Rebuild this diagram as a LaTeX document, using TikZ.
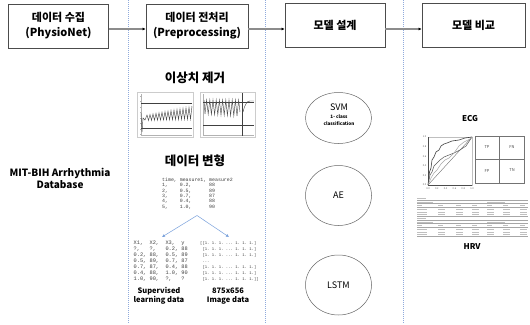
\documentclass[tikz,border=0pt]{standalone}
\usepackage{fontspec}
\setmainfont{Noto Sans CJK KR}
\setmonofont{Liberation Mono}
\usetikzlibrary{shapes.geometric,arrows.meta}
\definecolor{sepblue}{RGB}{143,170,220}
\definecolor{arrblue}{RGB}{120,160,220}
\begin{document}
\begin{tikzpicture}[x=1pt,y=-1pt,
  stagebox/.style={draw=black!70, line width=0.7pt, minimum width=100pt, minimum height=44pt, align=center, font=\bfseries\fontsize{11}{15}\selectfont},
  flowarrow/.style={draw=black!45, line width=1.2pt, -{Latex[length=3pt,width=3pt,black]}},
  sepline/.style={draw=sepblue, line width=0.8pt, dash pattern=on 1pt off 1pt},
  sectitle/.style={font=\bfseries\fontsize{12.5}{14}\selectfont},
  modelell/.style={draw=black!60, line width=0.5pt, ellipse, minimum width=66pt, align=center},
  tinytt/.style={font=\ttfamily\fontsize{4.9}{5.33}\selectfont, text=black!75, inner sep=0pt, align=left},
  capt/.style={font=\bfseries\fontsize{7.5}{8.5}\selectfont, align=center},
  forkarrow/.style={draw=arrblue, line width=0.5pt, -{Latex[length=3pt,width=3pt]}},
  plotframe/.style={draw=black!20, line width=0.4pt},
  darkline/.style={draw=black!75, line width=0.6pt},
  sigline/.style={draw=black!70, line width=0.45pt},
  ticklab/.style={font=\fontsize{2.5}{3}\selectfont, text=black!60, inner sep=0pt},
  cmlabel/.style={font=\itshape\fontsize{4}{5}\selectfont, text=black!70},
  tcell/.style={draw=black!25, line width=0.6pt},
  trule/.style={draw=black!35, line width=0.3pt},
  smalltitle/.style={font=\bfseries\fontsize{8}{9}\selectfont}
]
\useasboundingbox (0,0) rectangle (530,324);
\fill[white] (0,0) rectangle (530,324);

% separators
\draw[sepline] (128,0) -- (128,324);
\draw[sepline] (265,0) -- (265,324);
\draw[sepline] (403,0) -- (403,324);

% stage boxes
\node[stagebox] (b1) at (58.5,26) {데이터 수집\\(PhysioNet)};
\node[stagebox, minimum width=102pt] (b2) at (197,26) {데이터 전처리\\(Preprocessing)};
\node[stagebox] (b3) at (335,25) {모델 설계};
\node[stagebox, minimum width=103pt] (b4) at (473.5,25) {모델 비교};
\draw[flowarrow] ([yshift=-3pt]b1.east) -- ([yshift=-3pt]b2.west);
\draw[flowarrow] ([yshift=-3pt]b2.east) -- ([yshift=-4pt]b3.west);
\draw[flowarrow] ([yshift=-4pt]b3.east) -- ([yshift=-4pt]b4.west);

% database
\node[font=\bfseries\fontsize{10}{12}\selectfont, align=center] (db) at (60,178) {MIT-BIH Arrhythmia\\Database};

% preprocessing column
\node[sectitle] (outl) at (195,78) {이상치 제거};

% left plot
\draw[plotframe] (137,92) rectangle (193,137);
\draw[black!30, line width=0.3pt] (141,94) -- (141,135) -- (192,135);
\foreach \t in {0,...,10} {\draw[black!30, line width=0.3pt] ({141+5*\t},135) -- ({141+5*\t},136);}
\foreach \t in {0,...,7} {\draw[black!30, line width=0.3pt] (140,{96+5.5*\t}) -- (141,{96+5.5*\t});}
\draw[darkline] (141,103) -- (192,103);
\draw[darkline] (141,128) -- (192,128);
\draw[sigline] (141,113) -- (142,132) -- (143,118) -- (145,120)
  \foreach \i in {0,...,14} { -- ({147+3*\i},{115-0.55*\i}) -- ({148.5+3*\i},{120.5-0.1*\i}) } -- (192,106);

% right plot
\draw[plotframe] (200,92) rectangle (255,137);
\draw[black!30, line width=0.3pt] (203,94) -- (203,135) -- (254,135);
\foreach \t in {0,...,10} {\draw[black!30, line width=0.3pt] ({203+5*\t},135) -- ({203+5*\t},136);}
\draw[darkline] (203,102) -- (254,102);
\draw[darkline] (203,125) -- (254,125);
\draw[sigline] (204,100)
  \foreach \i in {0,...,10} { -- ({205+3.2*\i},{114+0.2*\i}) -- ({206.6+3.2*\i},100) } -- (240,112);
\draw[darkline] (242.5,93) -- (242.5,136);
\draw[sigline] (243,112) .. controls (245,104) and (247,101) .. (250,101) -- (254,101);

\node[sectitle] (trans) at (195,161) {데이터 변형};

\node[tinytt, anchor=north west] (tbl) at (162,177.6) {time,~measure1,~measure2\\1,~~~~0.2,~~~~~~88\\2,~~~~0.5,~~~~~~89\\3,~~~~0.7,~~~~~~87\\4,~~~~0.4,~~~~~~88\\5,~~~~1.0,~~~~~~90};
\coordinate (fork) at (197,215.5);

\node[tinytt, font=\ttfamily\fontsize{5.3}{6}\selectfont, anchor=north west] (sup) at (133.5,241.2) {X1,~~X2,~~X3,~~y\\?,~~~?,~~~0.2,~88\\0.2,~88,~~0.5,~89\\0.5,~89,~~0.7,~87\\0.7,~87,~~0.4,~88\\0.4,~88,~~1.0,~90\\1.0,~90,~~?,~~~?};
\node[tinytt, font=\ttfamily\fontsize{3.9}{6}\selectfont, anchor=north west] (img) at (200,241.6) {[[1.~1.~1.~...~1.~1.~1.]\\~[1.~1.~1.~...~1.~1.~1.]\\~[1.~1.~1.~...~1.~1.~1.]\\~...\\~[1.~1.~1.~...~1.~1.~1.]\\~[1.~1.~1.~...~1.~1.~1.]\\~[1.~1.~1.~...~1.~1.~1.]]};
\coordinate (supTip) at (162,237);
\coordinate (imgTip) at (229,237);
\draw[forkarrow] (fork) -- (supTip);
\draw[forkarrow] (fork) -- (imgTip);

\node[capt] (supcap) at (159,296) {Supervised\\learning data};
\node[capt] (imgcap) at (228,296) {875x656\\Image data};

% models
\node[modelell, minimum height=51pt] (svm) at (338.5,118) {};
\node[font=\fontsize{9}{10}\selectfont] (svmt) at (339,107.5) {SVM};
\node[font=\bfseries\fontsize{4.6}{6.5}\selectfont, align=center] (svms) at (339,120) {1- class\\classification};
\node[modelell, minimum height=60pt, font=\fontsize{9}{10}\selectfont] (ae) at (338.5,195.5) {AE};
\node[modelell, minimum height=60pt, font=\fontsize{9}{10}\selectfont] (lstm) at (338.5,285) {LSTM};

% comparison column
\node[smalltitle] (ecg) at (470,119) {ECG};

% ROC
\draw[black!25, line width=0.3pt] (428,137) rectangle (472,185);
\draw[black!70, line width=0.4pt] (428,137) -- (428,185) -- (472,185);
\draw[black!60, line width=0.35pt] (428,185) -- (472,137);
\draw[black!75, line width=0.6pt] (428,185) -- (429.5,172) -- (431,168) -- (432,160) -- (434,157) -- (436,152) -- (439,150) -- (441,146) -- (444,144) -- (447,143) -- (452,141) -- (459,140) -- (465,138) -- (472,137);
\draw[black!65, line width=0.5pt] (428,185) -- (430,175) -- (432,172) -- (434,166) -- (437,163) -- (440,160) -- (444,157) -- (449,155) -- (454,153) -- (460,150) -- (466,146) -- (472,137);
\draw[black!35, line width=0.5pt] (428,185) -- (431,178) -- (434,173) -- (437,170) -- (441,164) -- (445,160) -- (449,158) -- (454,153) -- (459,146) -- (464,142) -- (470,139) -- (472,137);
\foreach \v/\yy in {0.0/185,0.2/175.4,0.4/165.8,0.6/156.2,0.8/146.6,1.0/137} {\node[ticklab] at (424.5,\yy) {\v};}
\foreach \v/\xx in {0.0/428,0.2/436.8,0.4/445.6,0.6/454.4,0.8/463.2,1.0/472} {\node[ticklab] at (\xx,188.5) {\v};}

% confusion matrix
\draw[black!55, line width=0.4pt] (475,136) rectangle (524,183);
\draw[black!55, line width=0.4pt] (499.5,136) -- (499.5,183);
\draw[black!55, line width=0.4pt] (475,159.5) -- (524,159.5);
\node[cmlabel] (tp) at (487,147.5) {TP};
\node[cmlabel] (fn) at (512,147.5) {FN};
\node[cmlabel] (fp) at (487,171) {FP};
\node[cmlabel] (tn) at (512,170) {TN};

% result tables (illegible small print rendered as grey marks)
\foreach \oy in {0,20} {
  \draw[tcell] (417,{198.5+\oy}) -- (426,{198.5+\oy});
  \draw[trule] (417,{200.3+\oy}) -- (528,{200.3+\oy});
  \draw[tcell] (417,{202+\oy}) -- (433,{202+\oy});
  \draw[tcell] (487,{202+\oy}) -- (505,{202+\oy});
  \draw[trule] (417,{203.6+\oy}) -- (528,{203.6+\oy});
  \foreach \cx in {417,438,456,472,487,503,520} {
    \draw[tcell] (\cx,{205.3+\oy}) -- ({\cx+5},{205.3+\oy});
  }
  \draw[trule] (417,{206.8+\oy}) -- (528,{206.8+\oy});
  \foreach \ry in {209,211.8,214.6} {
    \draw[tcell] (417,{\ry+\oy}) -- (427,{\ry+\oy});
    \foreach \cx in {438,456,472,487,503,520} {
      \draw[tcell] (\cx,{\ry+\oy}) -- ({\cx+7},{\ry+\oy});
    }
  }
  \draw[trule] (417,{216.4+\oy}) -- (528,{216.4+\oy});
}

\node[smalltitle] (hrv) at (472,247) {HRV};
\end{tikzpicture}
\end{document}
